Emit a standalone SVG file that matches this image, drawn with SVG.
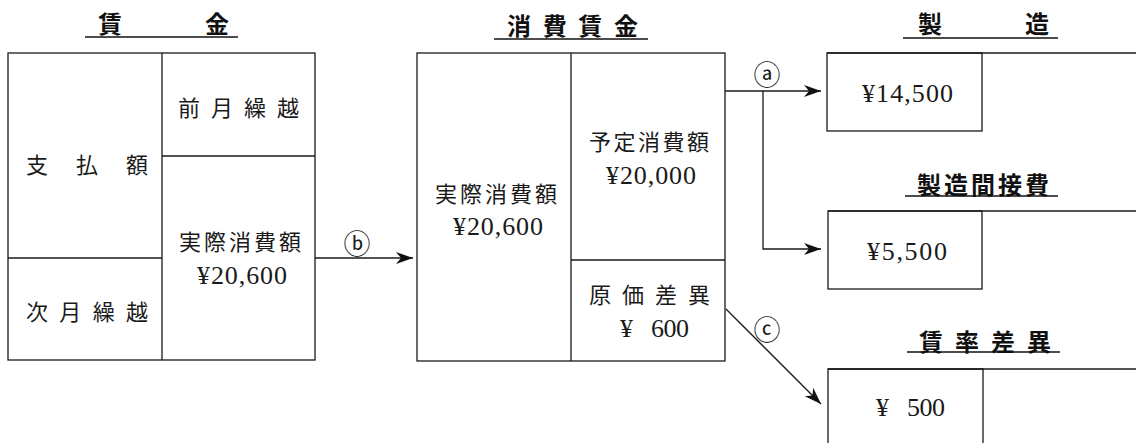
<svg xmlns="http://www.w3.org/2000/svg" width="1136" height="443" viewBox="0 0 1136 443">
<style>
.ln{fill:none;stroke:#1a1a1a;stroke-width:1.3}
.jp{font-family:"Noto Sans CJK JP","Noto Sans CJK SC",sans-serif;font-size:22px;fill:#1a1a1a;dominant-baseline:central}
.tt{font-family:"Noto Sans CJK JP","Noto Sans CJK SC",sans-serif;font-size:24px;font-weight:bold;fill:#111;dominant-baseline:central}
.num{font-family:"Liberation Serif","Times New Roman",serif;font-size:26px;fill:#1a1a1a;dominant-baseline:central}
.lab{font-family:"Noto Sans CJK JP","DejaVu Sans",sans-serif;font-size:27px;fill:#1a1a1a;dominant-baseline:central;text-anchor:middle}
.ul{stroke:#111;stroke-width:1.6}
</style>
<defs>
<marker id="ah" markerUnits="userSpaceOnUse" markerWidth="20" markerHeight="14" viewBox="-18 -7 20 14" refX="0" refY="0" orient="auto">
<path d="M0,0 L-17,-6 L-12,0 L-17,6 Z" fill="#111"/>
</marker>
</defs>

<g id="chingin">
<text class="tt" x="110" y="22" text-anchor="middle">賃</text>
<text class="tt" x="217" y="22" text-anchor="middle">金</text>
<line class="ul" x1="85" y1="37" x2="238" y2="37"/>
<rect class="ln" x="8" y="53" width="307" height="307"/>
<line class="ln" x1="162" y1="53" x2="162" y2="360"/>
<line class="ln" x1="8" y1="258" x2="162" y2="258"/>
<line class="ln" x1="162" y1="156" x2="315" y2="156"/>
<text class="jp" x="178" y="106" textLength="121" lengthAdjust="spacing">前月繰越</text>
<text class="jp" x="26" y="163" textLength="122" lengthAdjust="spacing">支払額</text>
<text class="jp" x="26" y="310" textLength="122" lengthAdjust="spacing">次月繰越</text>
<text class="jp" x="179" y="240" textLength="122" lengthAdjust="spacing">実際消費額</text>
<text class="num" x="197" y="275" textLength="90" lengthAdjust="spacing">¥20,600</text>
</g>

<g id="shohi-chingin">
<text class="tt" x="507" y="24" textLength="131" lengthAdjust="spacing">消費賃金</text>
<line class="ul" x1="494" y1="39" x2="648" y2="39"/>
<rect class="ln" x="417" y="53" width="308" height="308"/>
<line class="ln" x1="571" y1="53" x2="571" y2="361"/>
<line class="ln" x1="571" y1="260" x2="725" y2="260"/>
<text class="jp" x="435" y="192" textLength="122" lengthAdjust="spacing">実際消費額</text>
<text class="num" x="453" y="226" textLength="90" lengthAdjust="spacing">¥20,600</text>
<text class="jp" x="589" y="140" textLength="120" lengthAdjust="spacing">予定消費額</text>
<text class="num" x="606" y="175" textLength="90" lengthAdjust="spacing">¥20,000</text>
<text class="jp" x="589" y="293" textLength="121" lengthAdjust="spacing">原価差異</text>
<text class="num" x="620" y="328">¥</text>
<text class="num" x="651" y="328" textLength="38" lengthAdjust="spacing">600</text>
</g>

<g id="seizo">
<text class="tt" x="930" y="22" text-anchor="middle">製</text>
<text class="tt" x="1037" y="22" text-anchor="middle">造</text>
<line class="ul" x1="903" y1="38" x2="1058" y2="38"/>
<line class="ln" x1="827" y1="53" x2="1136" y2="53"/>
<rect class="ln" x="827" y="53" width="155" height="78"/>
<text class="num" x="862" y="93" textLength="91" lengthAdjust="spacing">¥14,500</text>
</g>

<g id="seizo-kansetsuhi">
<text class="tt" x="917" y="183" textLength="132" lengthAdjust="spacing">製造間接費</text>
<line class="ul" x1="905" y1="196" x2="1058" y2="196"/>
<line class="ln" x1="828" y1="211" x2="1136" y2="211"/>
<rect class="ln" x="828" y="211" width="154" height="78"/>
<text class="num" x="867" y="251" textLength="80" lengthAdjust="spacing">¥5,500</text>
</g>

<g id="chinritsu-sai">
<text class="tt" x="919" y="340" textLength="132" lengthAdjust="spacing">賃率差異</text>
<line class="ul" x1="907" y1="352" x2="1060" y2="352"/>
<line class="ln" x1="828" y1="369" x2="1136" y2="369"/>
<polyline class="ln" points="828,443 828,369 983,369 983,443"/>
<text class="num" x="876" y="407">¥</text>
<text class="num" x="907" y="407" textLength="38" lengthAdjust="spacing">500</text>
</g>

<g id="connectors">
<line class="ln" x1="315" y1="258" x2="413" y2="258" marker-end="url(#ah)"/>
<text class="lab" x="357" y="242">ⓑ</text>
<line class="ln" x1="725" y1="91" x2="821" y2="91" marker-end="url(#ah)"/>
<polyline class="ln" points="763,91 763,249 821,249" marker-end="url(#ah)"/>
<text class="lab" x="767" y="73">ⓐ</text>
<line class="ln" x1="726" y1="309" x2="821" y2="404" marker-end="url(#ah)"/>
<text class="lab" x="767" y="328">ⓒ</text>
</g>
</svg>
